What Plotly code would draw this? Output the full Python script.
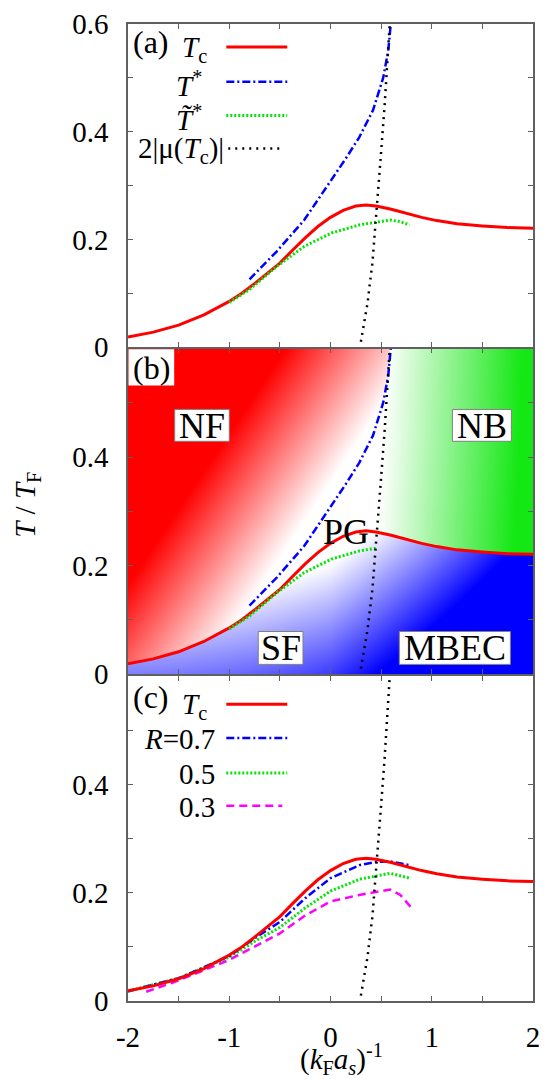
import base64, struct, zlib
import numpy as np
import plotly.graph_objects as go

# ---------------- data ----------------
tc_x = [-2.0, -1.75, -1.5, -1.25, -1.0, -0.875, -0.75, -0.625, -0.5, -0.375, -0.25, -0.125, 0.0, 0.125, 0.25, 0.35, 0.45, 0.6, 0.75, 0.9, 1.05, 1.25, 1.5, 1.75, 2.0]
tc_T = [0.019, 0.028, 0.041, 0.060, 0.085, 0.100, 0.118, 0.137, 0.156, 0.180, 0.203, 0.224, 0.241, 0.254, 0.262, 0.264, 0.262, 0.256, 0.248, 0.241, 0.235, 0.229, 0.225, 0.222, 0.221]

tstar_x = [-0.80, -0.53, -0.26, 0.01, 0.15, 0.285, 0.42, 0.52, 0.57, 0.595]
tstar_T = [0.126, 0.178, 0.236, 0.310, 0.350, 0.390, 0.440, 0.500, 0.550, 0.600]

ttilde_x = [-1.0, -0.8, -0.53, -0.26, 0.01, 0.285, 0.45, 0.59, 0.69, 0.78]
ttilde_T = [0.083, 0.107, 0.150, 0.187, 0.212, 0.227, 0.232, 0.236, 0.233, 0.227]

mu_x = [0.30, 0.33, 0.366, 0.39, 0.414, 0.447, 0.472, 0.495, 0.535, 0.565, 0.585]
mu_T = [0.01, 0.04, 0.082, 0.12, 0.156, 0.236, 0.304, 0.350, 0.450, 0.550, 0.600]

r07_x = [-2.0, -1.5, -1.0, -0.75, -0.5, -0.25, 0.0, 0.285, 0.45, 0.59, 0.78]
r07_T = [0.018, 0.042, 0.083, 0.116, 0.146, 0.190, 0.227, 0.251, 0.257, 0.258, 0.251]

r05_x = [-2.0, -1.5, -1.0, -0.75, -0.5, -0.25, 0.0, 0.285, 0.59, 0.78]
r05_T = [0.018, 0.042, 0.081, 0.110, 0.136, 0.172, 0.203, 0.225, 0.236, 0.227]

r03_x = [-1.82, -1.5, -1.0, -0.75, -0.5, -0.25, 0.0, 0.285, 0.59, 0.69, 0.80]
r03_T = [0.017, 0.038, 0.076, 0.100, 0.125, 0.158, 0.184, 0.196, 0.206, 0.196, 0.172]

y_major = [0, 0.2, 0.4, 0.6]
y_minor = [0.1, 0.3, 0.5]
x_ticks = [-2, -1.5, -1, -0.5, 0, 0.5, 1, 1.5, 2]
x_ticktext = ["-2", " ", "-1", " ", "0", " ", "1", " ", "2"]

# ---------------- geometry ----------------
W, H = 548, 1079
ML, MR, MT, MB = 128, 8, 20, 78
PH = H - MT - MB
def yf(py):
    return (H - MB - py) / PH
def xf(px):
    return (px - ML) / (W - ML - MR)

dom_a = [yf(344.5), 1.0]
dom_b = [yf(672.7), yf(346)]
dom_c = [0.0, yf(675)]

FONT = "Times New Roman, Liberation Serif, serif"
RED, BLUE, GREEN, MAG = "#ff0000", "#0000ff", "#00e600", "#ff00ff"
FRAME = "#606060"

fig = go.Figure()

def add(xs, ys, color, dash, width, ax):
    fig.add_trace(go.Scatter(x=xs, y=ys, mode="lines", line=dict(color=color, dash=dash, width=width),
                             xaxis="x" + ax, yaxis="y" + ax, showlegend=False, hoverinfo="skip"))

DD = "8px,3px,2px,3px"
DOT = "2px,2px"
BDOT = "2px,5px"
DASH = "8px,5px"

# panel (a)
add(tc_x, tc_T, RED, "solid", 3, "")
add(tstar_x, tstar_T, BLUE, DD, 2.5, "")
add(ttilde_x, ttilde_T, GREEN, DOT, 3, "")
add(mu_x, mu_T, "black", BDOT, 2.5, "")
# panel (b)
add(tc_x, tc_T, RED, "solid", 3, "2")
add(tstar_x, tstar_T, BLUE, DD, 2.5, "2")
tx = [a for a in ttilde_x if a <= 0.45]
add(tx, ttilde_T[:len(tx)], GREEN, DOT, 3, "2")
add(mu_x, mu_T, "black", BDOT, 2.5, "2")
# panel (c)
add(r03_x, r03_T, MAG, DASH, 2.5, "3")
add(r05_x, r05_T, GREEN, DOT, 3, "3")
add(r07_x, r07_T, BLUE, DD, 2.5, "3")
add(tc_x, tc_T, RED, "solid", 3, "3")
add(mu_x, mu_T, "black", BDOT, 2.5, "3")

# ---------------- background gradient for panel (b) ----------------
nx, ny = 412, 327
gx = -2 + (np.arange(nx) + 0.5) * 4 / nx
gT = 0.6 - (np.arange(ny) + 0.5) * 0.6 / ny
X, T = np.meshgrid(gx, gT)
tc_i = np.interp(X, tc_x, tc_T)
xs_i = np.where(T >= tstar_T[0], np.interp(T, tstar_T, tstar_x), tstar_x[0])
xm_i = np.interp(T, mu_T, mu_x)
above = T > tc_i
red_m = above & (X < xs_i)
green_m = above & (X > xm_i)
blue_m = ~above

img = np.full((ny, nx, 3), 255.0)
fr = np.clip(-0.95 - 0.75 * X + 2.69 * T, 0, 1)
fg = np.clip((X - xm_i) / 1.35 + 0.1 * (T - 0.4), 0, 1)
fb = np.clip(0.76 + 0.25 * X - 3.75 * T + 0.06 * X ** 2 + 0.25 * np.clip(X, 0, None), 0, 1)
for m, f, col in [(red_m, fr, (255, 0, 0)), (green_m, fg, (20, 232, 20)), (blue_m, fb, (0, 0, 255))]:
    for k in range(3):
        img[..., k] = np.where(m, 255 * (1 - f) + col[k] * f, img[..., k])
img = np.clip(img, 0, 255).astype(np.uint8)

def png_uri(a):
    h, w, _ = a.shape
    raw = b"".join(b"\x00" + a[i].tobytes() for i in range(h))
    def chunk(t, d):
        return struct.pack(">I", len(d)) + t + d + struct.pack(">I", zlib.crc32(t + d) & 0xffffffff)
    png = b"\x89PNG\r\n\x1a\n" + chunk(b"IHDR", struct.pack(">IIBBBBB", w, h, 8, 2, 0, 0, 0)) + \
        chunk(b"IDAT", zlib.compress(raw, 9)) + chunk(b"IEND", b"")
    return "data:image/png;base64," + base64.b64encode(png).decode()

images = [dict(source=png_uri(img), xref="x2", yref="y2", x=-2, y=0.6, sizex=4, sizey=0.6,
               sizing="stretch", layer="below", xanchor="left", yanchor="top")]

# ---------------- axes ----------------
TICKSZ = 29
def xaxis(anchor, labels):
    return dict(range=[-2, 2], domain=[0, 1], anchor=anchor, tickvals=x_ticks, ticktext=x_ticktext,
                showticklabels=labels, ticks="inside", ticklen=5,
                tickcolor=FRAME, tickwidth=1, showline=True, linecolor=FRAME, linewidth=1.5, mirror="ticks",
                showgrid=False, zeroline=False, tickfont=dict(family=FONT, size=TICKSZ, color="black"),
                ticklabelstandoff=9)

def yaxis(anchor, dom, top_label):
    tv = y_major if top_label else y_major[:-1]
    return dict(range=[0, 0.6], domain=dom, anchor=anchor, tickvals=tv, tickformat=".1~f",
                ticks="inside", ticklen=5, tickcolor=FRAME, tickwidth=1, showline=True, linecolor=FRAME,
                linewidth=1.5, mirror="ticks", showgrid=False, zeroline=False,
                minor=dict(tickvals=y_minor, ticks="inside", ticklen=5, tickcolor=FRAME, tickwidth=1),
                tickfont=dict(family=FONT, size=TICKSZ, color="black"), ticklabelstandoff=12)

# ---------------- annotations & legend shapes ----------------
ann = []
shapes = []
def txt(text, px, py, size=29, xanchor="right", **kw):
    ann.append(dict(text=text, x=xf(px), y=yf(py), xref="paper", yref="paper", xanchor=xanchor, yanchor="middle",
                    showarrow=False, font=dict(family=FONT, size=size, color="black"), **kw))
def seg(px0, px1, py, color, dash, width):
    shapes.append(dict(type="line", xref="paper", yref="paper", x0=xf(px0), x1=xf(px1), y0=yf(py), y1=yf(py),
                       line=dict(color=color, dash=dash, width=width)))
def rect(px0, px1, py0, py1, line=True):
    shapes.append(dict(type="rect", xref="paper", yref="paper", x0=xf(px0), x1=xf(px1), y0=yf(py1), y1=yf(py0),
                       fillcolor="white", line=dict(color="#808080", width=1 if line else 0), layer="above"))

# panel (a)
txt("(a)", 131, 38, size=32, xanchor="left")
txt("<i>T</i><sub>c</sub>", 210, 45)
txt("<i>T</i><sup>*</sup>", 205, 80)
txt("<i>T\u0303</i><sup>*</sup>", 205, 114)
txt("2|\u03bc(<i>T</i><sub>c</sub>)|", 228, 147)
seg(228, 290, 43, RED, "solid", 3)
seg(228, 290, 78, BLUE, DD, 2.5)
seg(228, 290, 112, GREEN, DOT, 3)
seg(230, 285, 145, "black", BDOT, 2.5)

# panel (b)
rect(128.5, 175, 346.5, 383, line=False)
rect(175.5, 231, 407, 439)
rect(458, 518, 407, 439)
rect(260.5, 306, 630, 663)
rect(404, 517, 630, 663)
txt("(b)", 131, 365, size=32, xanchor="left")
txt("NF", 203.5, 424, size=36, xanchor="center")
txt("NB", 488, 424, size=36, xanchor="center")
txt("SF", 283.5, 647, size=36, xanchor="center")
txt("MBEC", 460.5, 647, size=36, xanchor="center")
txt("PG", 350, 530, size=36, xanchor="center")

# panel (c)
txt("(c)", 131, 696, size=32, xanchor="left")
txt("<i>T</i><sub>c</sub>", 210, 705)
txt("<i>R</i>=0.7", 219, 738)
txt("0.5", 219, 773)
txt("0.3", 219, 806)
seg(228, 290, 703, RED, "solid", 3)
seg(228, 290, 737, BLUE, DD, 2.5)
seg(228, 290, 772, GREEN, DOT, 3)
seg(228, 285, 805, MAG, DASH, 2.5)

# axis titles
txt("(<i>k</i><sub>F</sub><i>a<sub>s</sub></i>)<sup>-1</sup>", 345, 1059, size=29, xanchor="center")
ann.append(dict(text="<i>T</i> / <i>T</i><sub>F</sub>", x=xf(25), y=yf(503), xref="paper", yref="paper",
                xanchor="center", yanchor="middle", textangle=-90, showarrow=False,
                font=dict(family=FONT, size=29, color="black")))

fig.update_layout(
    width=W, height=H, margin=dict(l=ML, r=MR, t=MT, b=MB),
    paper_bgcolor="white", plot_bgcolor="white", showlegend=False,
    xaxis=xaxis("y", False), yaxis=yaxis("x", dom_a, True),
    xaxis2=xaxis("y2", False), yaxis2=yaxis("x2", dom_b, False),
    xaxis3=xaxis("y3", True), yaxis3=yaxis("x3", dom_c, False),
    annotations=ann, shapes=shapes, images=images,
)
fig.write_html("out.html")
